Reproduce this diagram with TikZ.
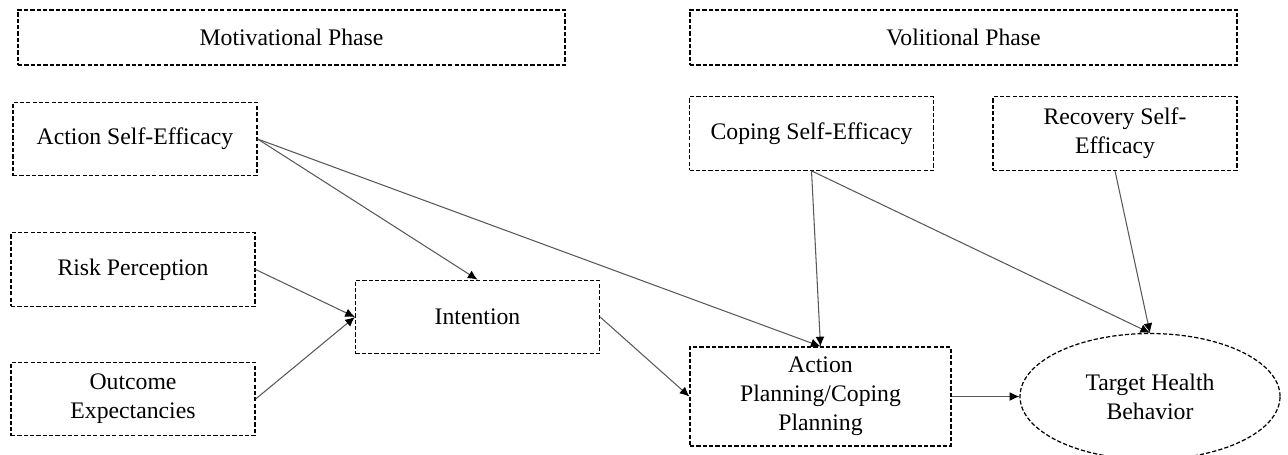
\documentclass[tikz,border=0pt]{standalone}
\usepackage{fontspec}
\setmainfont{Liberation Serif}
\usetikzlibrary{arrows.meta, shapes.geometric}

\begin{document}
\begin{tikzpicture}[
		>={Latex[length=5.5pt,width=5pt,black]},
		box/.style={draw=black, dash pattern=on 2.4pt off 1.2pt, line width=0.7pt,
			inner sep=0pt, align=center, font=\fontsize{13.5}{16.5}\selectfont},
		phase/.style={box, minimum width=10.94cm, minimum height=1.1cm},
		factor/.style={box, minimum width=4.88cm, minimum height=1.47cm},
		behavior/.style={box, ellipse, minimum width=5.2cm, minimum height=2.52cm},
		link/.style={->, draw=black!65, line width=0.6pt},
	]
	\useasboundingbox (0,0) rectangle (25.76,-9.08);
	% phases
	\node[phase] (mot) at (5.83,-0.75) {Motivational Phase};
	\node[phase] (vol) at (19.27,-0.75) {Volitional Phase};
	% motivational factors
	\node[factor] (ase) at (2.70,-2.78) {Action Self-Efficacy};
	\node[factor] (risk) at (2.66,-5.39) {Risk Perception};
	\node[factor] (outc) at (2.66,-7.98) {Outcome\\Expectancies};
	\node[factor] (inten) at (9.55,-6.34) {Intention};
	% volitional factors
	\node[factor] (cope) at (16.23,-2.67) {Coping Self-Efficacy};
	\node[factor] (recov) at (22.30,-2.67) {Recovery Self-\\Efficacy};
	\node[factor, minimum width=5.22cm, minimum height=1.98cm] (plan) at (16.41,-7.93)
		{Action\\Planning/Coping\\Planning};
	\node[behavior] (thb) at (23.0,-7.93) {Target Health\\Behavior};
	% paths
	\draw[link] (ase.east) -- (inten.north);
	\draw[link] (ase.east) -- (plan.north);
	\draw[link] (risk.east) -- (inten.west);
	\draw[link] (outc.east) -- (inten.west);
	\draw[link] (inten.east) -- (plan.west);
	\draw[link] (cope.south) -- (plan.north);
	\draw[link] (cope.south) -- (thb.north);
	\draw[link] (recov.south) -- (thb.north);
	\draw[link] (plan.east) -- (thb.west);
\end{tikzpicture}
\end{document}
